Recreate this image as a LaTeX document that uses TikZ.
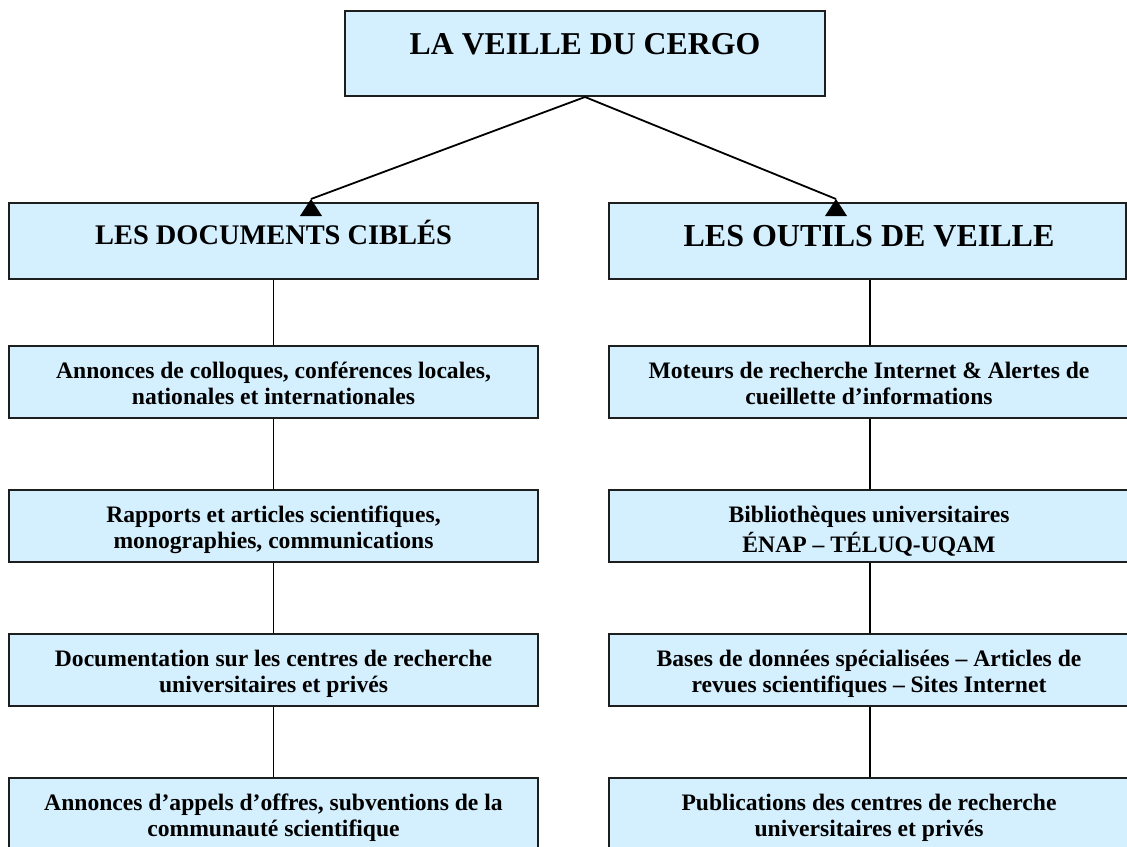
\documentclass[tikz,border=0pt]{standalone}
\usepackage{fontspec}
\setmainfont{Liberation Serif}
\usetikzlibrary{fit}
\definecolor{boxfill}{RGB}{212,239,253}
\definecolor{boxline}{RGB}{30,30,30}
\tikzset{
  box/.style={draw=boxline, line width=1pt, fill=boxfill, inner sep=0pt},
  link/.style={draw=black, line width=0.9pt},
  rowtxt/.style={anchor=north, inner sep=0pt, align=center, font=\fontsize{11.8}{13}\selectfont\bfseries},
  headtxt/.style={anchor=base, inner sep=0pt},
  tip/.style={fill=black},
}
\begin{document}
\begin{tikzpicture}[x=0.5pt,y=-0.5pt]
\useasboundingbox (0,0) rectangle (1127,846);
% top
\node[box, fit={(345,11) (825,96)}] (top) {};
\node[headtxt, font=\fontsize{15.9}{18}\selectfont\bfseries] (toptxt) at (585,54) {LA VEILLE DU CERGO};
% headers
\node[box, fit={(9,203) (538,279)}] (lh) {};
\node[headtxt, font=\fontsize{14.2}{16}\selectfont\bfseries] (lhtxt) at (273.5,244) {LES DOCUMENTS CIBLÉS};
\node[box, fit={(609,203) (1126,279)}] (rh) {};
\node[headtxt, font=\fontsize{16}{18}\selectfont\bfseries] (rhtxt) at (869,246.5) {LES OUTILS DE VEILLE};
% left rows
\node[box, fit={(9,346) (538,418)}] (l1) {};
\node[rowtxt] (l1t) at (273.5,360) {\strut Annonces de colloques, conférences locales,\\nationales et internationales};
\node[box, fit={(9,490) (538,562)}] (l2) {};
\node[rowtxt] (l2t) at (273.5,504) {\strut Rapports et articles scientifiques,\\monographies, communications};
\node[box, fit={(9,634) (538,706)}] (l3) {};
\node[rowtxt] (l3t) at (273.5,648) {\strut Documentation sur les centres de recherche\\universitaires et privés};
\node[box, fit={(9,778) (538,850)}] (l4) {};
\node[rowtxt] (l4t) at (273.5,792) {\strut Annonces d’appels d’offres, subventions de la\\communauté scientifique};
% right rows
\node[box, fit={(609,346) (1131,418)}] (r1) {};
\node[rowtxt] (r1t) at (869,360) {\strut Moteurs de recherche Internet \& Alertes de\\cueillette d’informations};
\node[box, fit={(609,490) (1131,562)}] (r2) {};
\node[rowtxt] (r2t) at (869,504) {\strut Bibliothèques universitaires\\ÉNAP – TÉLUQ-UQAM};
\node[box, fit={(609,634) (1131,706)}] (r3) {};
\node[rowtxt] (r3t) at (869,648) {\strut Bases de données spécialisées – Articles de\\revues scientifiques – Sites Internet};
\node[box, fit={(609,778) (1131,850)}] (r4) {};
\node[rowtxt] (r4t) at (869,792) {\strut Publications des centres de recherche\\universitaires et privés};
% connectors
\coordinate (al) at (311,199);
\coordinate (ar) at (836,199);
\draw[link] (top.south) -- (al);
\draw[link] (top.south) -- (ar);
\fill[tip] (al) -- ++(-11,17) -- ++(22,0) -- cycle;
\fill[tip] (ar) -- ++(-11,17) -- ++(22,0) -- cycle;
\draw[link] (lh.south) -- (l1.north);
\draw[link] (l1.south) -- (l2.north);
\draw[link] (l2.south) -- (l3.north);
\draw[link] (l3.south) -- (l4.north);
\draw[link] (rh.south -| r1.north) -- (r1.north);
\draw[link] (r1.south) -- (r2.north);
\draw[link] (r2.south) -- (r3.north);
\draw[link] (r3.south) -- (r4.north);
\end{tikzpicture}
\end{document}
